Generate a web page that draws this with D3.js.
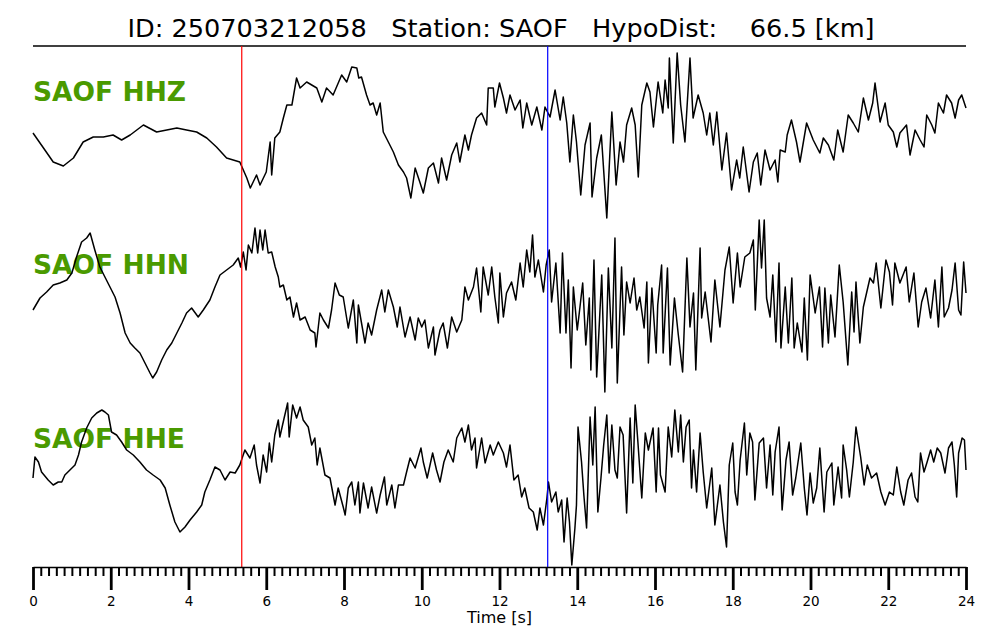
<!DOCTYPE html>
<html>
<head>
<meta charset="utf-8">
<script src="https://cdn.jsdelivr.net/npm/d3@7"></script>
<style>
  html, body { margin: 0; padding: 0; background: #fff; }
  svg { display: block; font-family: "DejaVu Sans", sans-serif; }
</style>
</head>
<body>
<svg id="chart" width="1000" height="640"></svg>
<script>
// ---------------- data ----------------
const titleText = "ID: 250703212058   Station: SAOF   HypoDist:    66.5 [km]";
const channels = ["SAOF HHZ", "SAOF HHN", "SAOF HHE"];
const pickP = 5.37;   // s
const pickS = 13.24;  // s
const majorTicks = [0, 2, 4, 6, 8, 10, 12, 14, 16, 18, 20, 22, 24];
const minorTicks = d3.range(0, 120).map(i => i * 0.2).filter(v => Math.abs(v / 2 - Math.round(v / 2)) > 1e-6);
const xLabel = "Time [s]";

// [time s, relative amplitude]
const hhz = [[0,2],[0.27,-13],[0.52,-27],[0.78,-31],[1.04,-23],[1.29,-7],[1.55,-2],[1.81,-2],[2.06,0],[2.28,-5],[2.5,0],[2.84,10],[3.18,3],[3.44,5],[3.7,7],[3.95,5],[4.21,3],[4.47,-3],[4.72,-12],[4.98,-23],[5.32,-27],[5.5,-43],[5.59,-53],[5.75,-40],[5.84,-50],[6.0,-37],[6.1,-7],[6.14,-40],[6.22,-3],[6.35,3],[6.44,17],[6.53,30],[6.66,30],[6.78,57],[6.87,47],[7.04,53],[7.3,47],[7.43,33],[7.55,47],[7.72,40],[7.94,60],[8.07,53],[8.2,68],[8.33,67],[8.38,57],[8.45,58],[8.58,40],[8.67,30],[8.75,32],[8.84,20],[8.93,32],[9.01,3],[9.14,-7],[9.27,-17],[9.4,-30],[9.53,-37],[9.61,-43],[9.72,-63],[9.83,-33],[9.95,-47],[10.04,-58],[10.17,-33],[10.3,-28],[10.43,-48],[10.51,-23],[10.64,-45],[10.77,-20],[10.9,-8],[10.98,-27],[11.11,0],[11.2,-15],[11.28,0],[11.41,17],[11.54,22],[11.67,10],[11.71,47],[11.84,47],[11.88,28],[12.0,52],[12.1,37],[12.18,22],[12.27,40],[12.4,25],[12.53,35],[12.6,7],[12.7,32],[12.83,10],[12.96,28],[13.09,5],[13.17,28],[13.3,18],[13.43,45],[13.56,15],[13.64,38],[13.73,12],[13.81,-27],[13.9,20],[13.98,-7],[14.09,-60],[14.2,-10],[14.33,12],[14.38,-62],[14.5,-23],[14.62,0],[14.76,-83],[14.89,23],[15.0,-50],[15.1,-7],[15.19,-27],[15.27,10],[15.4,27],[15.49,10],[15.57,-42],[15.66,30],[15.79,52],[15.87,43],[15.96,8],[16.08,53],[16.2,22],[16.26,55],[16.34,27],[16.37,77],[16.47,-8],[16.57,82],[16.66,30],[16.77,-7],[16.9,77],[16.98,17],[17.11,40],[17.24,22],[17.33,0],[17.41,22],[17.5,-10],[17.59,23],[17.72,-35],[17.84,2],[17.97,-55],[18.1,-25],[18.18,-43],[18.27,-12],[18.42,-57],[18.53,-27],[18.63,-18],[18.72,-50],[18.83,-15],[18.96,-35],[19.09,-25],[19.16,-47],[19.22,-15],[19.35,-17],[19.4,0],[19.51,15],[19.64,-7],[19.73,-27],[19.9,12],[20.07,-5],[20.24,-18],[20.33,-3],[20.46,-10],[20.6,-25],[20.7,5],[20.84,-17],[20.97,20],[21.1,12],[21.23,3],[21.36,37],[21.49,15],[21.6,32],[21.66,52],[21.79,13],[21.92,32],[22.0,10],[22.13,3],[22.22,-12],[22.3,2],[22.47,10],[22.56,-20],[22.69,5],[22.82,-5],[22.92,-12],[22.99,20],[23.12,10],[23.2,2],[23.29,32],[23.42,22],[23.5,40],[23.63,32],[23.72,17],[23.81,35],[23.89,40],[24.0,27]];

const hhn = [[0,0],[0.18,12],[0.35,18],[0.52,25],[0.69,27],[0.87,30],[1.0,37],[1.12,53],[1.25,68],[1.38,72],[1.47,77],[1.59,60],[1.72,43],[1.85,33],[1.98,23],[2.11,13],[2.24,-3],[2.37,-23],[2.5,-33],[2.62,-38],[2.75,-43],[2.88,-53],[3.01,-63],[3.08,-68],[3.18,-62],[3.31,-50],[3.44,-40],[3.57,-33],[3.7,-23],[3.83,-13],[3.95,-3],[4.08,2],[4.25,-7],[4.38,0],[4.55,10],[4.68,23],[4.81,35],[4.98,40],[5.15,45],[5.28,52],[5.34,43],[5.41,58],[5.48,40],[5.54,65],[5.63,57],[5.71,82],[5.78,57],[5.84,80],[5.91,60],[5.97,80],[6.05,57],[6.14,58],[6.23,43],[6.31,33],[6.35,23],[6.44,25],[6.53,10],[6.61,13],[6.7,-7],[6.78,7],[6.87,-10],[7.0,-7],[7.13,-20],[7.25,-23],[7.28,-37],[7.38,-3],[7.47,-10],[7.6,-18],[7.68,0],[7.77,27],[7.88,15],[7.98,13],[8.11,-18],[8.24,10],[8.33,-33],[8.37,5],[8.54,-33],[8.62,-13],[8.71,-25],[8.84,0],[8.97,20],[9.05,-2],[9.14,20],[9.27,3],[9.37,-17],[9.44,3],[9.57,-27],[9.7,-7],[9.83,-30],[9.91,-8],[10.0,-17],[10.08,-10],[10.17,-38],[10.3,-17],[10.34,-45],[10.47,-20],[10.55,-13],[10.66,-38],[10.77,-7],[10.9,-22],[11.03,-10],[11.11,23],[11.2,10],[11.33,23],[11.41,42],[11.52,-2],[11.58,43],[11.71,15],[11.8,43],[11.88,13],[11.97,-13],[12.01,37],[12.1,-7],[12.18,17],[12.31,28],[12.42,10],[12.53,47],[12.61,23],[12.7,60],[12.78,38],[12.85,75],[12.91,33],[13.0,50],[13.13,18],[13.2,45],[13.28,60],[13.34,8],[13.45,47],[13.56,-23],[13.62,57],[13.71,-23],[13.77,30],[13.84,-58],[13.9,23],[14.0,-20],[14.07,3],[14.14,27],[14.22,-35],[14.31,12],[14.35,-60],[14.43,50],[14.5,-67],[14.63,35],[14.71,-82],[14.8,42],[14.89,-38],[14.97,72],[15.03,-73],[15.14,43],[15.2,-25],[15.27,28],[15.36,7],[15.46,32],[15.53,0],[15.61,13],[15.72,-18],[15.79,28],[15.83,-53],[15.92,22],[16.03,-43],[16.07,5],[16.17,45],[16.21,-43],[16.32,42],[16.39,-55],[16.5,12],[16.6,-25],[16.71,-62],[16.82,52],[16.9,-17],[16.99,17],[17.05,-60],[17.16,62],[17.2,-8],[17.29,18],[17.44,-32],[17.54,30],[17.67,-17],[17.8,40],[17.91,63],[18.01,7],[18.12,57],[18.19,23],[18.31,53],[18.44,57],[18.53,70],[18.58,0],[18.68,90],[18.74,42],[18.81,90],[18.87,12],[18.96,-7],[19.03,35],[19.11,-32],[19.19,47],[19.24,-38],[19.35,23],[19.43,-33],[19.52,32],[19.58,-38],[19.66,-13],[19.78,-42],[19.84,12],[19.92,-50],[19.99,35],[20.12,-3],[20.23,23],[20.31,-37],[20.37,22],[20.46,-33],[20.52,15],[20.63,-27],[20.74,45],[20.84,8],[20.96,-55],[21.06,18],[21.12,-22],[21.17,28],[21.27,-33],[21.36,3],[21.53,32],[21.62,27],[21.69,47],[21.81,2],[21.94,50],[22.03,38],[22.11,5],[22.17,47],[22.3,27],[22.46,43],[22.54,8],[22.66,37],[22.77,-17],[22.86,8],[22.97,22],[23.09,-8],[23.2,30],[23.29,-17],[23.38,43],[23.44,-7],[23.55,2],[23.64,20],[23.72,47],[23.81,0],[23.87,-5],[23.94,48],[24.0,17]];

const hhe = [[0,6],[0.05,27],[0.14,22],[0.22,12],[0.39,4],[0.52,-1],[0.65,2],[0.74,2],[0.82,9],[0.95,14],[1.08,19],[1.17,29],[1.25,42],[1.38,56],[1.51,66],[1.64,71],[1.77,74],[1.85,72],[1.94,69],[2.02,52],[2.15,49],[2.28,42],[2.41,34],[2.58,29],[2.75,22],[2.92,14],[3.09,9],[3.27,4],[3.4,-4],[3.52,-21],[3.65,-38],[3.78,-48],[3.91,-43],[4.04,-36],[4.21,-28],[4.34,-21],[4.42,-8],[4.55,4],[4.68,17],[4.81,14],[4.94,4],[5.07,12],[5.2,11],[5.32,19],[5.45,34],[5.58,26],[5.69,39],[5.75,19],[5.84,1],[5.92,29],[6.01,12],[6.08,41],[6.14,22],[6.22,49],[6.31,64],[6.35,47],[6.46,66],[6.55,81],[6.59,47],[6.68,79],[6.78,66],[6.87,77],[6.95,64],[7.08,57],[7.17,39],[7.25,46],[7.31,19],[7.38,36],[7.51,9],[7.64,6],[7.77,-21],[7.85,-4],[7.98,-23],[8.03,-31],[8.11,-4],[8.2,2],[8.28,-21],[8.37,2],[8.41,-29],[8.5,1],[8.62,-24],[8.71,-3],[8.84,-29],[8.93,-11],[9.04,7],[9.1,-21],[9.23,-1],[9.31,-24],[9.4,-1],[9.53,-1],[9.61,12],[9.7,26],[9.83,16],[9.98,36],[10.04,22],[10.14,6],[10.28,31],[10.38,14],[10.47,2],[10.57,22],[10.68,34],[10.81,22],[10.9,46],[11.03,56],[11.11,42],[11.2,59],[11.28,34],[11.37,46],[11.41,16],[11.54,46],[11.63,21],[11.76,39],[11.84,29],[11.97,42],[12.1,31],[12.18,17],[12.27,39],[12.37,4],[12.48,9],[12.57,-13],[12.65,-4],[12.76,-24],[12.87,-28],[12.97,-46],[13.04,-24],[13.13,-41],[13.22,-14],[13.26,2],[13.34,-18],[13.45,-8],[13.51,-28],[13.6,-16],[13.66,-58],[13.74,-14],[13.8,-38],[13.86,-81],[13.94,-44],[13.98,-21],[14.02,57],[14.11,22],[14.17,-11],[14.24,-44],[14.33,67],[14.4,19],[14.46,77],[14.53,-28],[14.61,6],[14.68,39],[14.76,69],[14.82,11],[14.89,59],[14.97,14],[15.03,6],[15.1,57],[15.18,49],[15.27,-29],[15.36,66],[15.43,1],[15.49,79],[15.56,42],[15.66,-14],[15.75,51],[15.83,34],[15.95,56],[16.03,-8],[16.09,56],[16.14,9],[16.26,-8],[16.34,57],[16.43,27],[16.51,74],[16.6,32],[16.66,69],[16.73,22],[16.8,57],[16.88,64],[16.94,-4],[16.99,34],[17.07,-8],[17.16,51],[17.24,12],[17.33,-24],[17.46,16],[17.54,-41],[17.67,-1],[17.76,-38],[17.84,-63],[17.91,19],[18.0,41],[18.06,-8],[18.12,-21],[18.19,24],[18.3,61],[18.36,9],[18.44,51],[18.51,42],[18.57,-16],[18.68,41],[18.79,46],[18.87,-4],[18.96,39],[19.03,-11],[19.09,32],[19.19,57],[19.27,-26],[19.37,24],[19.45,42],[19.54,-11],[19.62,6],[19.75,41],[19.84,-4],[19.91,-31],[19.99,11],[20.07,-19],[20.16,-4],[20.24,36],[20.35,-28],[20.42,12],[20.55,21],[20.6,-21],[20.71,17],[20.8,-14],[20.84,39],[20.93,14],[21.0,-13],[21.1,22],[21.17,57],[21.23,42],[21.29,27],[21.38,-1],[21.46,19],[21.57,6],[21.7,11],[21.81,-8],[21.92,-21],[22.03,-8],[22.13,-11],[22.22,17],[22.32,-8],[22.4,-21],[22.51,4],[22.6,11],[22.69,-13],[22.76,-18],[22.83,31],[22.92,12],[23.0,22],[23.09,34],[23.17,22],[23.26,36],[23.35,31],[23.46,11],[23.55,36],[23.64,42],[23.7,19],[23.76,-13],[23.81,31],[23.9,46],[23.96,44],[24.0,14]];

const traces = [hhz, hhn, hhe];

// ---------------- layout ----------------
const svg = d3.select("#chart");
const left = 33, right = 966;
const topLine = 46, axisY = 567;
const centers = [135, 310, 484];
const halfBand = 100;

const x = d3.scaleLinear().domain([0, 24]).range([left, right]);
const yScales = centers.map(c => d3.scaleLinear().domain([-100, 100]).range([c + halfBand, c - halfBand]));

// title
svg.append("text")
  .attr("x", 501).attr("y", 37)
  .attr("text-anchor", "middle")
  .style("white-space", "pre")
  .attr("font-size", 25.6)
  .attr("fill", "#000")
  .text(titleText);

svg.append("line")
  .attr("x1", left).attr("x2", right)
  .attr("y1", topLine).attr("y2", topLine)
  .attr("stroke", "#000").attr("stroke-width", 1.5);

// channel labels
const labelBaselines = [101, 274, 448];
channels.forEach((c, i) => {
  svg.append("text")
    .attr("x", left).attr("y", labelBaselines[i])
    .attr("font-size", 26.5).attr("font-weight", "bold")
    .attr("fill", "#4a9a00")
    .text(c);
});

// traces
traces.forEach((tr, i) => {
  const line = d3.line().x(d => x(d[0])).y(d => yScales[i](d[1]));
  svg.append("path")
    .datum(tr)
    .attr("d", line)
    .attr("fill", "none")
    .attr("stroke", "#000")
    .attr("stroke-width", 1.5)
    .attr("stroke-linejoin", "round");
});

// picks
[[pickP, "#ff0000"], [pickS, "#0000ff"]].forEach(([t, col]) => {
  svg.append("line")
    .attr("x1", x(t)).attr("x2", x(t))
    .attr("y1", topLine).attr("y2", axisY)
    .attr("stroke", col).attr("stroke-width", 1.2);
});

// axis
const minorAxis = d3.axisBottom(x).tickValues(minorTicks).tickSize(9).tickFormat("").tickSizeOuter(0);
const gMinor = svg.append("g").attr("transform", `translate(0,${axisY})`).call(minorAxis);
gMinor.selectAll(".tick line").attr("stroke", "#000").attr("stroke-width", 2);
gMinor.select(".domain").remove();

const majorAxis = d3.axisBottom(x).tickValues(majorTicks).tickSize(23).tickPadding(6).tickSizeOuter(0).tickFormat(d3.format("d"));
const gMajor = svg.append("g").attr("transform", `translate(0,${axisY})`).call(majorAxis);
gMajor.select(".domain").attr("stroke", "#000").attr("stroke-width", 1.5);
gMajor.selectAll(".tick line").attr("stroke", "#000").attr("stroke-width", 2.8);
gMajor.selectAll(".tick text").attr("font-size", 13.5).attr("font-family", "DejaVu Sans").attr("fill", "#000");

svg.append("text")
  .attr("x", (left + right) / 2).attr("y", 623)
  .attr("text-anchor", "middle")
  .attr("font-size", 16)
  .attr("fill", "#000")
  .text(xLabel);
</script>
</body>
</html>
